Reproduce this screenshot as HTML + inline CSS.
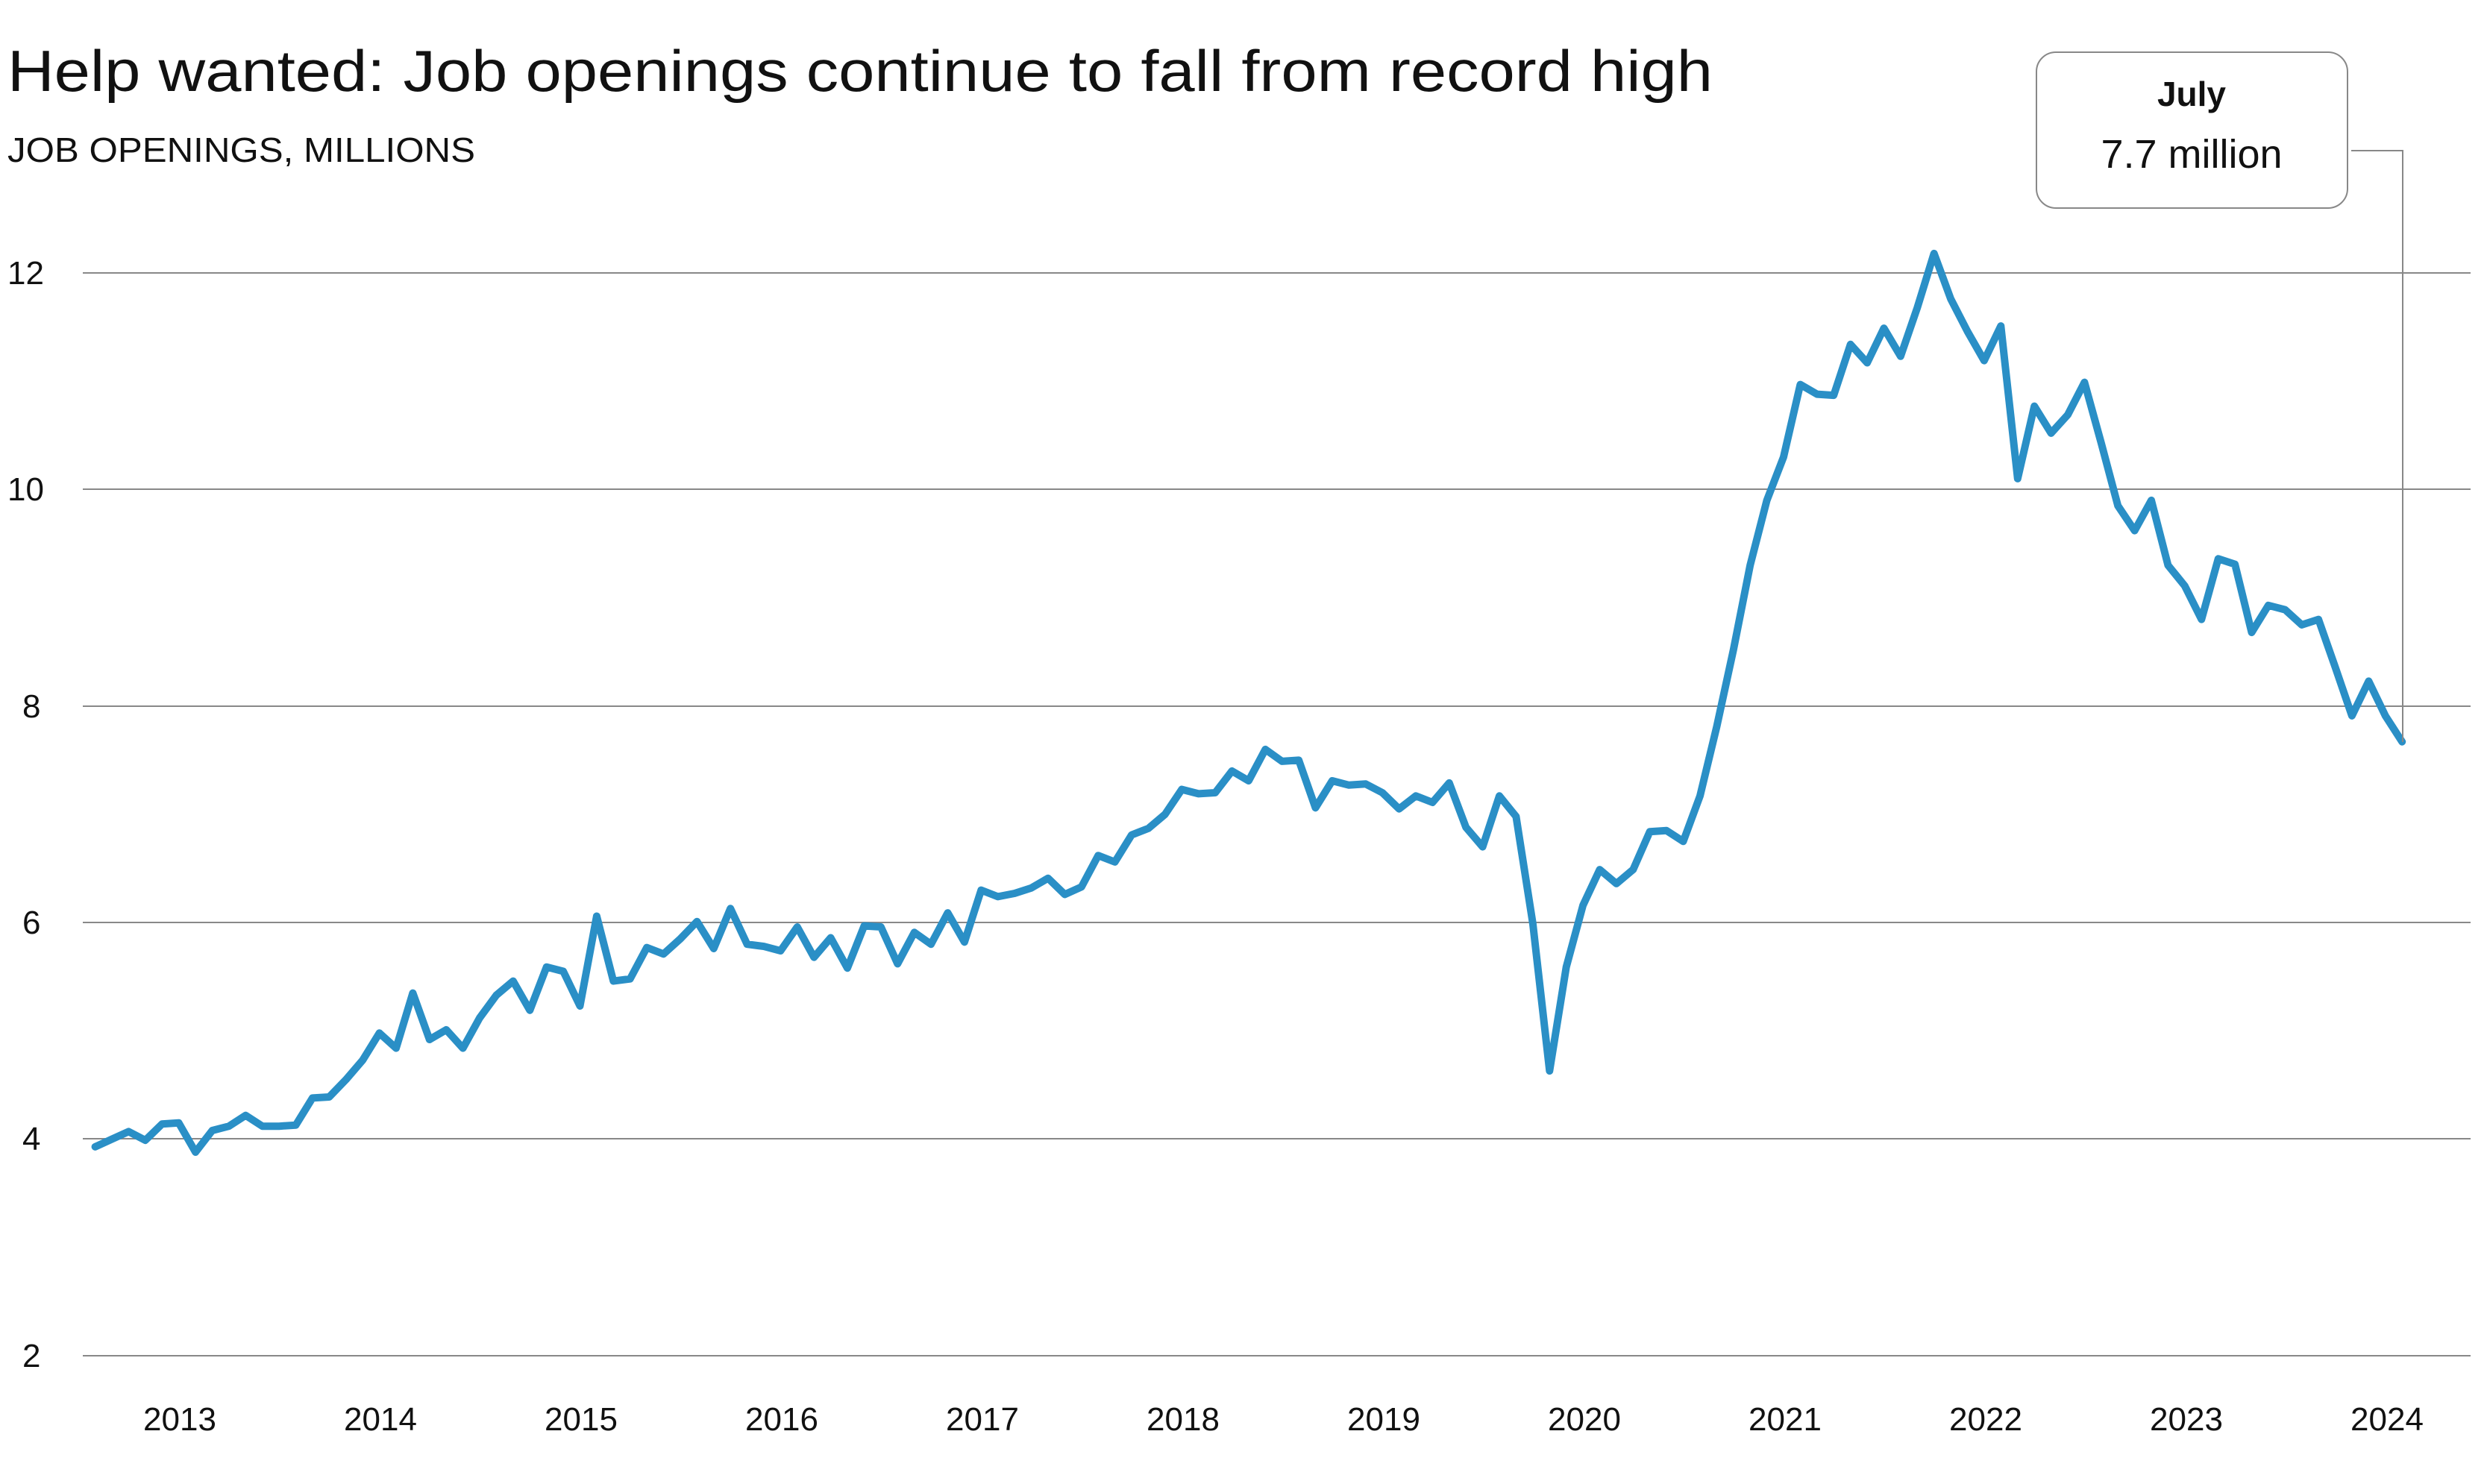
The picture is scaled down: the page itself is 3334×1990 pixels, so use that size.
<!DOCTYPE html>
<html><head><meta charset="utf-8"><style>
html,body{margin:0;padding:0;background:#fff;}
svg{display:block;font-family:"Liberation Sans",sans-serif;}
</style></head><body>
<svg width="3334" height="1990" viewBox="0 0 3334 1990" xmlns="http://www.w3.org/2000/svg">
<text x="10" y="122" font-size="78" fill="#111" textLength="2286" lengthAdjust="spacingAndGlyphs">Help wanted: Job openings continue to fall from record high</text>
<text x="10" y="217" font-size="46" fill="#111" textLength="627" lengthAdjust="spacingAndGlyphs">JOB OPENINGS, MILLIONS</text>
<g stroke="#888" stroke-width="2">
<line x1="111" y1="366" x2="3312" y2="366"/>
<line x1="111" y1="656" x2="3312" y2="656"/>
<line x1="111" y1="947" x2="3312" y2="947"/>
<line x1="111" y1="1237" x2="3312" y2="1237"/>
<line x1="111" y1="1527" x2="3312" y2="1527"/>
<line x1="111" y1="1818" x2="3312" y2="1818"/>
</g>
<g font-size="44" fill="#111">
<text x="10" y="381">12</text><text x="10" y="671">10</text>
<text x="30" y="962">8</text><text x="30" y="1252">6</text>
<text x="30" y="1542">4</text><text x="30" y="1833">2</text>
</g>
<g font-size="44" fill="#111" text-anchor="middle" id="xl"></g>
<polyline id="ln" fill="none" stroke="#2a8fc6" stroke-width="10" stroke-linejoin="round" stroke-linecap="round"/>
<polyline points="3152,202 3221,202 3221,995" fill="none" stroke="#888" stroke-width="2"/>
<rect x="2730" y="70" width="417" height="209" rx="26" fill="#fff" stroke="#888" stroke-width="2"/>
<text x="2938" y="142" font-size="46" font-weight="bold" text-anchor="middle" fill="#111">July</text>
<text x="2938" y="225" font-size="54" text-anchor="middle" fill="#111">7.7 million</text>
</svg>
<script>
var d=[3.93,4.0,4.07,3.99,4.14,4.15,3.88,4.08,4.12,4.22,4.12,4.12,
4.13,4.38,4.39,4.55,4.73,4.98,4.84,5.35,4.92,5.01,4.84,5.12,
5.33,5.46,5.19,5.59,5.55,5.23,6.06,5.46,5.48,5.77,5.71,5.85,
6.01,5.76,6.13,5.80,5.78,5.74,5.96,5.68,5.86,5.58,5.97,5.96,
5.62,5.91,5.80,6.09,5.82,6.30,6.24,6.27,6.32,6.41,6.26,6.33,
6.62,6.56,6.81,6.87,7.00,7.23,7.19,7.20,7.40,7.31,7.60,7.49,
7.50,7.06,7.31,7.27,7.28,7.20,7.05,7.17,7.11,7.29,6.88,6.70,
7.17,6.98,5.99,4.63,5.59,6.16,6.49,6.36,6.49,6.84,6.85,6.75,
7.17,7.81,8.52,9.30,9.90,10.30,10.97,10.88,10.87,11.34,11.17,11.49,
11.23,11.68,12.18,11.76,11.46,11.19,11.51,10.10,10.77,10.52,10.69,10.99,
10.43,9.85,9.62,9.90,9.30,9.11,8.80,9.36,9.31,8.68,8.93,8.89,
8.75,8.80,8.36,7.91,8.23,7.91,7.67];
var p=d.map(function(v,i){return (127.6+i*22.41).toFixed(1)+","+(366+(12-v)*145.2).toFixed(1);});
document.getElementById("ln").setAttribute("points",p.join(" "));
var g=document.getElementById("xl"),ns="http://www.w3.org/2000/svg";
for(var y=0;y<12;y++){var t=document.createElementNS(ns,"text");t.setAttribute("x",(241+y*269).toFixed(0));t.setAttribute("y","1918");t.textContent=2013+y;g.appendChild(t);}
</script>
</body></html>
